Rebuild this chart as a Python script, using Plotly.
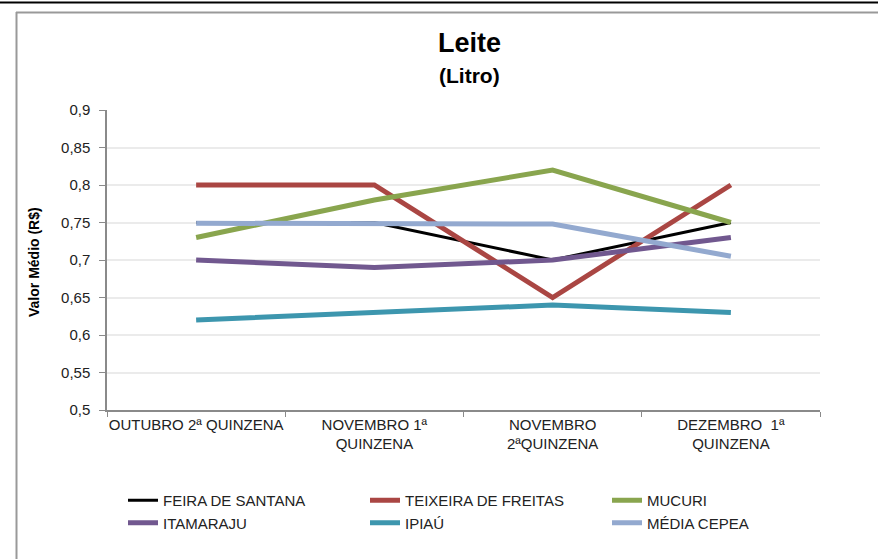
import plotly.graph_objects as go

categories = ["OUTUBRO 2ª QUINZENA", "NOVEMBRO 1ª<br>QUINZENA", "NOVEMBRO<br>2ªQUINZENA", "DEZEMBRO  1ª<br>QUINZENA"]
feira = [0.75, 0.75, 0.70, 0.75]
teixeira = [0.80, 0.80, 0.65, 0.80]
mucuri = [0.73, 0.78, 0.82, 0.75]
itamaraju = [0.70, 0.69, 0.70, 0.73]
ipiau = [0.62, 0.63, 0.64, 0.63]
media = [0.749, 0.748, 0.748, 0.705]
ytickvals = [0.5, 0.55, 0.6, 0.65, 0.7, 0.75, 0.8, 0.85, 0.9]
yticktext = ["0,5", "0,55", "0,6", "0,65", "0,7", "0,75", "0,8", "0,85", "0,9"]

series = [
    ("FEIRA DE SANTANA", feira, "#000000", 3),
    ("TEIXEIRA DE FREITAS", teixeira, "#AA4643", 5),
    ("MUCURI", mucuri, "#89A54E", 5),
    ("ITAMARAJU", itamaraju, "#71588F", 5),
    ("IPIAÚ", ipiau, "#3D96AE", 5),
    ("MÉDIA CEPEA", media, "#93A9CF", 5),
]

fig = go.Figure()
for name, vals, color, w in series:
    fig.add_trace(go.Scatter(x=categories, y=vals, name=name, mode="lines",
                             line=dict(color=color, width=w)))

W, H = 878, 559
L, R, T, B = 107, 820, 110, 410

def px(x):
    return (x - L) / (R - L)

def py(y):
    return (B - y) / (B - T)

FONT = "Liberation Sans, Arial, sans-serif"

fig.update_layout(
    width=W, height=H,
    margin=dict(l=L, r=W - R, t=T, b=H - B),
    paper_bgcolor="white", plot_bgcolor="white",
    font=dict(family=FONT, size=15, color="#222"),
    showlegend=True,
    legend=dict(orientation="h", x=px(123 + 726), y=py(484), xanchor="right", yanchor="top",
                entrywidth=197, entrywidthmode="pixels", tracegroupgap=0,
                font=dict(size=15, color="#222"), bgcolor="rgba(0,0,0,0)"),
    xaxis=dict(type="category", showline=True, linecolor="#8a8a8a", linewidth=1.5,
               ticks="outside", tickson="boundaries", ticklen=5, tickcolor="#8a8a8a",
               tickangle=0, automargin=False,
               showgrid=False, tickfont=dict(size=15, color="#222"), range=[-0.5, 3.5]),
    yaxis=dict(range=[0.5, 0.9], tickvals=ytickvals, ticktext=yticktext,
               showline=True, linecolor="#8a8a8a", linewidth=1.5,
               ticks="outside", ticklen=6, tickcolor="#8a8a8a", ticklabelstandoff=6,
               showgrid=True, gridcolor="#ebebeb", gridwidth=1.5, automargin=False,
               zeroline=False, tickfont=dict(size=15, color="#222")),
    annotations=[
        dict(text="<b>Leite</b>", x=px(470), y=py(43), xref="paper", yref="paper",
             showarrow=False, font=dict(size=27, color="#000"), xanchor="center", yanchor="middle"),
        dict(text="<b>(Litro)</b>", x=px(470), y=py(75), xref="paper", yref="paper",
             showarrow=False, font=dict(size=21, color="#000"), xanchor="center", yanchor="middle"),
        dict(text="<b>Valor Médio (R$)</b>", x=px(34), y=py(262), xref="paper", yref="paper",
             showarrow=False, textangle=-90,
             font=dict(family="Liberation Sans Narrow, Liberation Sans, Arial", size=14, color="#000"),
             xanchor="center", yanchor="middle"),
    ],
    shapes=[
        dict(type="line", xref="paper", yref="paper", x0=px(0), x1=px(878), y0=py(2.5), y1=py(2.5),
             line=dict(color="#000", width=2)),
        dict(type="line", xref="paper", yref="paper", x0=px(16), x1=px(878), y0=py(12.5), y1=py(12.5),
             line=dict(color="#999", width=2)),
        dict(type="line", xref="paper", yref="paper", x0=px(16.5), x1=px(16.5), y0=py(12), y1=py(559),
             line=dict(color="#999", width=2)),
    ],
)

fig.write_html("out.html", config={"displayModeBar": False},
               post_script="document.body.style.margin='0';")
